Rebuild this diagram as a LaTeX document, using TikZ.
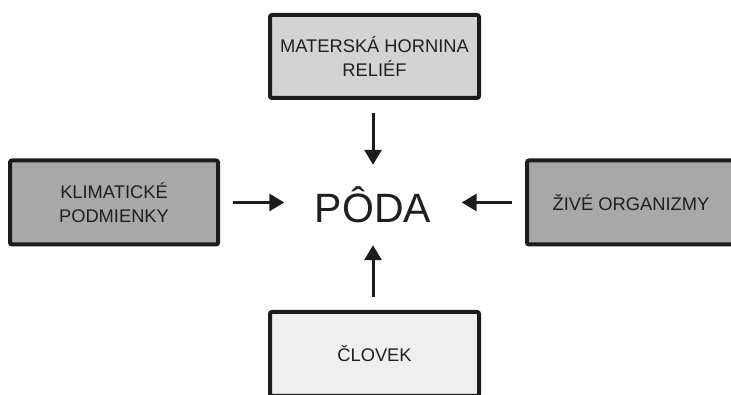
\documentclass[tikz,border=0pt]{standalone}
\usepackage{fontspec}
\setmainfont{Liberation Sans}
\usepackage{tikz}
\usetikzlibrary{arrows.meta}
\usepackage{xcolor}
\definecolor{rim}{HTML}{1C1C1C}
\definecolor{lightfill}{HTML}{D3D3D3}
\definecolor{darkfill}{HTML}{A8A8A8}
\definecolor{palefill}{HTML}{EFEFEF}

\begin{document}
\begin{tikzpicture}[x=1pt, y=1pt,
    factor/.style={draw=rim, line width=4pt, rounded corners=2pt,
        minimum width=209pt, minimum height=84pt, inner sep=0pt,
        align=center, text=black!88, font=\fontsize{18.3}{24}\selectfont},
    arr/.style={draw=rim, line width=3pt, shorten <=13pt,
        -{Triangle[length=15pt,width=17pt]}}]
    \useasboundingbox (0,0) rectangle (731,395);
    \clip (0,0) rectangle (731,395);
    \node[factor, fill=lightfill, minimum height=83pt] (rock) at (374.5,338.5) {MATERSKÁ HORNINA\\RELIÉF};
    \node[factor, fill=darkfill, minimum width=208pt, font=\fontsize{18.3}{23.5}\selectfont] (climate) at (114,192.5) {KLIMATICKÉ\\PODMIENKY};
    \node[factor, fill=darkfill, minimum width=208pt] (life) at (631,192.5) {ŽIVÉ ORGANIZMY};
    \node[factor, fill=palefill] (man) at (374.5,41) {ČLOVEK};
    \node[inner sep=0pt, minimum width=177pt, minimum height=80pt,
        text=black!88, font=\fontsize{41}{41}\selectfont] (soil) at (373,190) {PÔDA};
    % arrows towards the soil
    \draw[arr] (rock.south -| soil) -- (soil.north);
    \draw[arr] (climate.east) -- (climate -| soil.west);
    \draw[arr] (life.west) -- (life -| soil.east);
    \draw[arr] (man.north -| soil) -- (soil.south);
\end{tikzpicture}
\end{document}
